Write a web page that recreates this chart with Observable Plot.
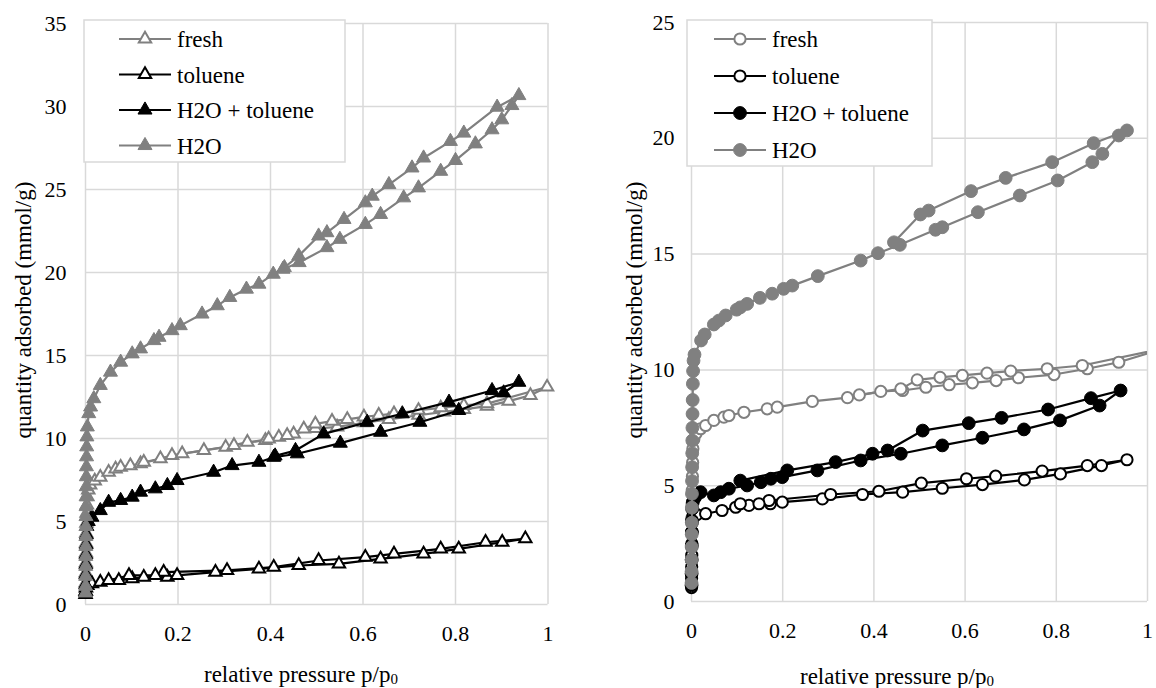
<!DOCTYPE html>
<html><head><meta charset="utf-8">
<script src="https://cdn.jsdelivr.net/npm/d3@7"></script>
<script src="https://cdn.jsdelivr.net/npm/@observablehq/plot@0.6"></script>
<style>
body{margin:0;background:#fff;}
#wrap{display:flex;width:1156px;height:688px;overflow:hidden;}
svg text{font-family:"Liberation Serif","Times New Roman",serif;}
</style></head><body><div id="wrap"></div>
<script>
// ---------- data: [relative pressure p/p0, quantity adsorbed mmol/g] ----------
const seriesNames = ["fresh", "toluene", "H2O + toluene", "H2O"];
const xTicks = [0, 0.2, 0.4, 0.6, 0.8, 1];
const yTicksLeft = [0, 5, 10, 15, 20, 25, 30, 35];
const yTicksRight = [0, 5, 10, 15, 20, 25];

// left panel (triangles)
const leftFreshAds = [[0.0002,0.8],[0.0004,1.3],[0.0006,1.9],[0.0008,2.5],[0.001,3.1],[0.0012,3.7],[0.0015,4.3],[0.002,4.9],[0.0025,5.5],[0.003,6.0],[0.004,6.5],[0.006,6.9],[0.01,7.2],[0.02,7.45],[0.032,7.67],[0.05,7.97],[0.065,8.17],[0.076,8.27],[0.097,8.37],[0.119,8.48],[0.162,8.78],[0.187,8.98],[0.256,9.28],[0.303,9.48],[0.35,9.78],[0.389,9.88],[0.418,10.08],[0.45,10.28],[0.497,10.6],[0.544,10.7],[0.602,10.95],[0.656,11.15],[0.72,11.4],[0.775,11.6],[0.818,11.75],[0.868,11.95],[0.915,12.25],[0.962,12.6],[0.998,13.1]];
const leftFreshDes = [[0.868,12.1],[0.818,12.0],[0.768,11.85],[0.72,11.7],[0.667,11.5],[0.634,11.4],[0.602,11.3],[0.566,11.15],[0.533,11.05],[0.497,10.88],[0.472,10.58],[0.436,10.18],[0.396,9.98],[0.321,9.58],[0.209,9.08],[0.126,8.57]];
const leftTolAds = [[0.0002,0.6],[0.0005,0.8],[0.001,1.0],[0.004,1.15],[0.014,1.25],[0.032,1.35],[0.072,1.45],[0.101,1.55],[0.126,1.65],[0.177,1.65],[0.198,1.75],[0.281,1.95],[0.375,2.15],[0.461,2.35],[0.548,2.45],[0.638,2.75],[0.731,3.05],[0.807,3.35],[0.901,3.75],[0.951,3.96]];
const leftTolDes = [[0.865,3.75],[0.768,3.35],[0.667,3.05],[0.605,2.85],[0.504,2.65],[0.407,2.25],[0.306,2.05],[0.169,1.95],[0.151,1.75],[0.094,1.75],[0.05,1.45]];
const leftMixAds = [[0.0002,0.7],[0.0004,1.2],[0.0006,1.8],[0.0008,2.4],[0.001,3.0],[0.0015,3.6],[0.002,4.2],[0.003,4.7],[0.006,5.0],[0.014,5.26],[0.032,5.66],[0.05,6.16],[0.076,6.27],[0.101,6.47],[0.119,6.77],[0.151,6.97],[0.177,7.17],[0.198,7.47],[0.277,7.97],[0.317,8.37],[0.375,8.57],[0.407,8.87],[0.458,9.08],[0.551,9.72],[0.638,10.38],[0.723,10.98],[0.807,11.69],[0.904,12.75],[0.937,13.39]];
const leftMixDes = [[0.879,12.89],[0.786,12.19],[0.685,11.49],[0.609,10.98],[0.515,10.28],[0.454,9.28],[0.41,8.95]];
const leftH2OAds = [[0.0002,0.7],[0.0003,1.1],[0.0004,1.7],[0.0005,2.3],[0.0006,2.9],[0.0007,3.5],[0.0008,4.1],[0.0009,4.7],[0.001,5.3],[0.0012,5.9],[0.0014,6.5],[0.0016,7.1],[0.0018,7.7],[0.002,8.3],[0.0023,8.9],[0.0026,9.5],[0.003,10.1],[0.004,10.7],[0.007,11.5],[0.011,11.9],[0.018,12.4],[0.032,13.2],[0.054,14.0],[0.076,14.6],[0.101,15.1],[0.119,15.4],[0.148,15.9],[0.159,16.1],[0.187,16.5],[0.205,16.8],[0.252,17.5],[0.285,18.0],[0.312,18.5],[0.348,19.0],[0.375,19.3],[0.406,19.9],[0.427,20.2],[0.462,20.6],[0.522,21.5],[0.55,22.0],[0.605,22.9],[0.638,23.5],[0.688,24.5],[0.72,25.1],[0.768,26.1],[0.8,26.75],[0.843,27.75],[0.879,28.6],[0.9,29.2],[0.922,30.06],[0.937,30.66]];
const leftH2ODes = [[0.89,29.96],[0.818,28.4],[0.789,27.9],[0.731,26.9],[0.706,26.3],[0.656,25.3],[0.62,24.6],[0.605,24.2],[0.559,23.2],[0.522,22.4],[0.504,22.2],[0.461,21.0],[0.43,20.3]];

// right panel (circles)
const rightFreshAds = [[0.0001,0.7],[0.0002,1.2],[0.0004,1.8],[0.0006,2.4],[0.0008,3.0],[0.001,3.6],[0.0013,4.2],[0.0016,4.8],[0.002,5.4],[0.0025,6.0],[0.003,6.6],[0.005,7.0],[0.01,7.25],[0.02,7.46],[0.031,7.6],[0.049,7.82],[0.071,7.96],[0.082,8.03],[0.115,8.17],[0.166,8.32],[0.188,8.39],[0.265,8.64],[0.342,8.8],[0.415,9.07],[0.463,9.11],[0.514,9.25],[0.565,9.36],[0.616,9.44],[0.668,9.54],[0.717,9.66],[0.795,9.8],[0.868,10.05],[0.937,10.33],[1.04,10.95]];
const rightFreshDes = [[0.857,10.19],[0.78,10.05],[0.7,9.95],[0.648,9.86],[0.594,9.76],[0.545,9.68],[0.495,9.57],[0.459,9.18],[0.368,8.92]];
const rightTolAds = [[0.0001,0.6],[0.0002,1.0],[0.0004,1.5],[0.0006,2.0],[0.0008,2.5],[0.001,3.0],[0.0015,3.4],[0.003,3.7],[0.012,3.75],[0.031,3.79],[0.067,3.93],[0.097,4.07],[0.126,4.15],[0.173,4.22],[0.199,4.29],[0.287,4.43],[0.375,4.62],[0.463,4.72],[0.55,4.89],[0.638,5.05],[0.73,5.25],[0.809,5.51],[0.899,5.87],[0.955,6.12]];
const rightTolDes = [[0.868,5.87],[0.769,5.63],[0.667,5.41],[0.603,5.3],[0.504,5.11],[0.411,4.76],[0.305,4.62],[0.17,4.36],[0.148,4.22],[0.107,4.22]];
const rightMixAds = [[0.0001,0.7],[0.0002,1.2],[0.0004,1.8],[0.0006,2.4],[0.0008,3.0],[0.001,3.5],[0.0015,4.0],[0.003,4.3],[0.008,4.5],[0.02,4.72],[0.049,4.58],[0.064,4.72],[0.082,4.87],[0.122,5.01],[0.152,5.15],[0.174,5.3],[0.199,5.37],[0.276,5.66],[0.371,6.09],[0.459,6.38],[0.55,6.74],[0.638,7.07],[0.729,7.43],[0.808,7.82],[0.895,8.46],[0.941,9.11]];
const rightMixDes = [[0.876,8.78],[0.782,8.29],[0.68,7.93],[0.608,7.7],[0.507,7.38],[0.43,6.52],[0.397,6.38],[0.316,6.02],[0.21,5.66],[0.107,5.22]];
const rightH2OAds = [[0.0001,0.8],[0.0002,1.3],[0.0003,1.8],[0.0004,2.35],[0.0005,2.9],[0.0006,3.4],[0.0008,4.05],[0.001,4.65],[0.0012,5.2],[0.0014,5.8],[0.0016,6.4],[0.0018,6.95],[0.002,7.5],[0.0023,8.1],[0.0026,8.7],[0.003,9.4],[0.0035,9.95],[0.0045,10.4],[0.0066,10.66],[0.021,11.27],[0.029,11.53],[0.049,11.96],[0.06,12.13],[0.075,12.35],[0.099,12.6],[0.107,12.7],[0.122,12.85],[0.15,13.11],[0.177,13.29],[0.202,13.5],[0.221,13.64],[0.277,14.05],[0.371,14.72],[0.409,15.04],[0.457,15.4],[0.535,16.05],[0.55,16.16],[0.628,16.81],[0.72,17.53],[0.803,18.18],[0.879,18.97],[0.901,19.33],[0.937,20.12],[0.955,20.34]];
const rightH2ODes = [[0.882,19.79],[0.791,18.97],[0.689,18.29],[0.613,17.72],[0.52,16.88],[0.502,16.71],[0.444,15.51]];

// ---------- styling ----------
const GRAY = "#808080", GRID = "#d9d9d9";
const FONT = "Liberation Serif";
const seriesStyle = {
  "fresh":         {stroke: GRAY,    fill: "white", hollow: true},
  "toluene":       {stroke: "black", fill: "white", hollow: true},
  "H2O + toluene": {stroke: "black", fill: "black", hollow: false},
  "H2O":           {stroke: GRAY,    fill: GRAY,    hollow: false}
};

function buildRows(list) {
  const pts = [], segs = [];
  list.forEach(([name, ads, des]) => {
    ads.forEach(([p, q]) => pts.push({series: name, p, q}));
    des.forEach(([p, q]) => pts.push({series: name, p, q}));
    ads.forEach(([p, q]) => segs.push({series: name, branch: "ads", p, q}));
    const top = ads[ads.length - 1];
    [top, ...des].forEach(([p, q]) => segs.push({series: name, branch: "des", p, q}));
  });
  return {pts, segs};
}

const leftData = buildRows([
  ["fresh", leftFreshAds, leftFreshDes],
  ["toluene", leftTolAds, leftTolDes],
  ["H2O + toluene", leftMixAds, leftMixDes],
  ["H2O", leftH2OAds, leftH2ODes]
]);
const rightData = buildRows([
  ["fresh", rightFreshAds, rightFreshDes],
  ["toluene", rightTolAds, rightTolDes],
  ["H2O + toluene", rightMixAds, rightMixDes],
  ["H2O", rightH2OAds, rightH2ODes]
]);

function makePanel(cfg) {
  const marks = [
    Plot.gridX(xTicks, {stroke: GRID, strokeOpacity: 1, strokeWidth: 1.5}),
    Plot.gridY(cfg.yTicks, {stroke: GRID, strokeOpacity: 1, strokeWidth: 1.5}),
    Plot.axisX(xTicks, {tickSize: 0, tickPadding: 21, tickFormat: d3.format("~g"), label: null, fontSize: 22}),
    Plot.axisY(cfg.yTicks, {tickSize: 0, tickPadding: cfg.yPad, label: null, fontSize: 22})
  ];
  for (const name of seriesNames) {
    const st = seriesStyle[name];
    marks.push(Plot.line(cfg.data.segs.filter(d => d.series === name),
      {x: "p", y: "q", z: "branch", stroke: st.stroke, strokeWidth: 2.2, clip: true}));
    marks.push(Plot.dot(cfg.data.pts.filter(d => d.series === name && d.p <= 1),
      {x: "p", y: "q", symbol: cfg.symbol, r: st.hollow ? cfg.rHollow : cfg.rFilled,
       fill: st.fill, stroke: st.stroke, strokeWidth: st.hollow ? 2 : 1}));
  }
  const svg = Plot.plot({
    width: 578, height: 688,
    marginLeft: cfg.ml, marginRight: cfg.mr, marginTop: cfg.mt, marginBottom: cfg.mb,
    x: {domain: [0, 1]},
    y: {domain: cfg.yDomain},
    style: {fontFamily: FONT, fontSize: "22px", color: "black", background: "white", overflow: "visible"},
    marks
  });
  const s = d3.select(svg);
  // axis titles
  s.append("text").attr("transform", `translate(${cfg.yTitleX},${cfg.yTitleY}) rotate(-90)`)
    .attr("text-anchor", "middle").attr("dominant-baseline", "central")
    .attr("font-size", 23).attr("fill", "black")
    .text("quantity adsorbed (mmol/g)");
  const xt = s.append("text").attr("x", cfg.xTitleX).attr("y", cfg.xTitleY)
    .attr("text-anchor", "middle").attr("dominant-baseline", "central")
    .attr("font-size", 23).attr("fill", "black");
  xt.append("tspan").text("relative pressure p/p");
  xt.append("tspan").attr("dy", "0.35em").attr("font-size", 15).text("0");
  // legend box inside plot area
  const L = cfg.legend;
  const g = s.append("g");
  g.append("rect").attr("x", L.x).attr("y", L.y).attr("width", L.w).attr("height", L.h)
    .attr("fill", "white").attr("stroke", GRID).attr("stroke-width", 1.5);
  seriesNames.forEach((name, i) => {
    const st = seriesStyle[name];
    const cy = L.y + L.row0 + i * L.dy;
    const cx = (L.lx1 + L.lx2) / 2;
    g.append("line").attr("x1", L.lx1).attr("x2", L.lx2).attr("y1", cy).attr("y2", cy)
      .attr("stroke", st.stroke).attr("stroke-width", 2.2);
    const r = st.hollow ? cfg.rHollow : cfg.rFilled;
    const sym = cfg.symbol === "triangle" ? d3.symbolTriangle : d3.symbolCircle;
    g.append("path").attr("d", d3.symbol(sym, r * r * Math.PI)())
      .attr("transform", `translate(${cx},${cy})`)
      .attr("fill", st.fill).attr("stroke", st.stroke).attr("stroke-width", st.hollow ? 2 : 1);
    g.append("text").attr("x", L.tx).attr("y", cy).attr("dy", "0.35em")
      .attr("text-anchor", "start")
      .attr("font-size", 23).attr("fill", "black").text(name);
  });
  return svg;
}

const wrap = document.getElementById("wrap");
wrap.appendChild(makePanel({
  data: leftData, symbol: "triangle", rHollow: 4.6, rFilled: 5.2,
  yDomain: [0, 35], yTicks: yTicksLeft, yPad: 19,
  ml: 85, mr: 30.5, mt: 23, mb: 84,
  yTitleX: 23, yTitleY: 310, xTitleX: 301, xTitleY: 674,
  legend: {x: 84, y: 20, w: 261, h: 142, row0: 19, dy: 35.5, lx1: 119, lx2: 171, tx: 177}
}));
wrap.appendChild(makePanel({
  data: rightData, symbol: "circle", rHollow: 5.6, rFilled: 6.4,
  yDomain: [0, 25], yTicks: yTicksRight, yPad: 17,
  ml: 113, mr: 9, mt: 22, mb: 87,
  yTitleX: 56, yTitleY: 310, xTitleX: 319, xTitleY: 676,
  legend: {x: 109, y: 20, w: 245, h: 146, row0: 19, dy: 37, lx1: 136, lx2: 188, tx: 194}
}));
</script></body></html>
